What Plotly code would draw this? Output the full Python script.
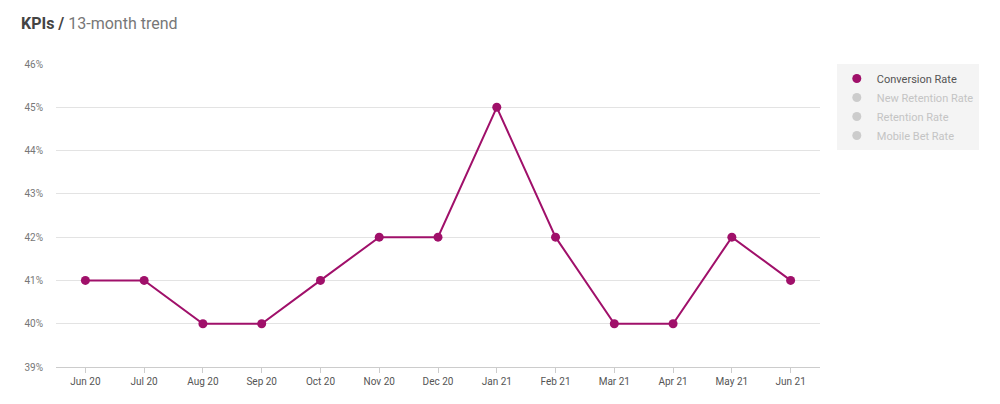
import plotly.graph_objects as go

months = ["Jun 20","Jul 20","Aug 20","Sep 20","Oct 20","Nov 20","Dec 20","Jan 21","Feb 21","Mar 21","Apr 21","May 21","Jun 21"]
conversion = [41, 41, 40, 40, 41, 42, 42, 45, 42, 40, 40, 42, 41]
hidden_series = ["New Retention Rate", "Retention Rate", "Mobile Bet Rate"]

fig = go.Figure()
fig.add_trace(go.Scatter(x=months, y=conversion, name="Conversion Rate", mode="lines+markers",
                         showlegend=False,
                         line=dict(color="#a0106a", width=2), marker=dict(size=9, color="#a0106a")))
fig.add_trace(go.Scatter(x=[None], y=[None], name="<span style='color:#555'>Conversion Rate</span>",
                         mode="markers", marker=dict(size=9, color="#a0106a")))
for n in hidden_series:
    fig.add_trace(go.Scatter(x=[None], y=[None], name=f"<span style='color:#c4c4c4'>{n}</span>",
                             mode="markers", marker=dict(size=9, color="#cccccc")))

fig.update_layout(
    width=1000, height=404, plot_bgcolor="white", paper_bgcolor="white",
    font=dict(family="Roboto", size=11, color="#666"),
    margin=dict(l=48, r=188, t=56, b=45),
    title=dict(text="<b>KPIs /</b> <span style='color:#777'>13-month trend</span>", x=0.013, y=0.975,
               xanchor="left", yanchor="top", font=dict(size=16, color="#444")),
    legend=dict(x=1.022, y=1.0, xanchor="left", yanchor="top", bgcolor="#f4f4f4",
                font=dict(size=11, color="#555"), itemwidth=30, tracegroupgap=2,
                entrywidth=140),
    showlegend=True,
)
fig.update_xaxes(showgrid=False, showline=True, linecolor="#ccc", ticks="outside", tickcolor="#ccc",
                 ticklen=5, tickfont=dict(size=10, color="#555"), range=[-0.5, 12.5])
fig.update_yaxes(range=[39, 46], dtick=1, ticksuffix="%", gridcolor="#e3e3e3", zeroline=False,
                 tickfont=dict(size=10, color="#777"), ticklabelstandoff=12)
fig.write_html("out.html")
